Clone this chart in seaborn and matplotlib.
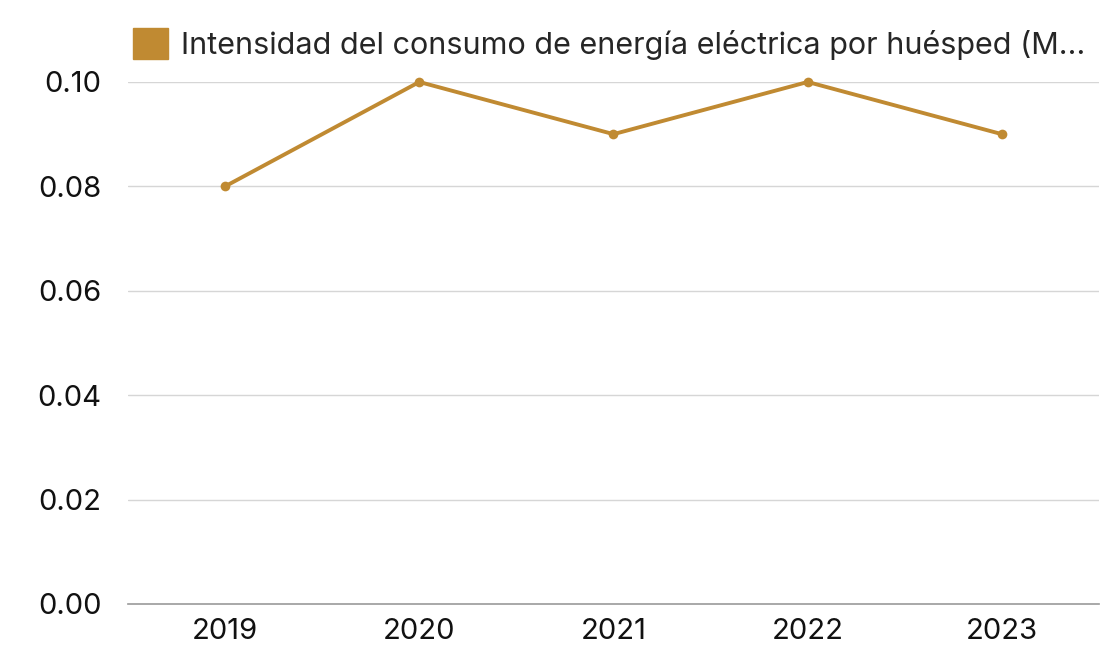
import seaborn as sns
import matplotlib.pyplot as plt
import matplotlib.patches as mpatches
import pandas as pd

years = ['2019', '2020', '2021', '2022', '2023']
intensity = [0.08, 0.10, 0.09, 0.10, 0.09]
label = 'Intensidad del consumo de energía eléctrica por huésped (M…'
yticks = [0.00, 0.02, 0.04, 0.06, 0.08, 0.10]

GOLD = '#C08A32'

sns.set_theme(style='white')
plt.rcParams['font.family'] = ['Inter', 'DejaVu Sans']

df = pd.DataFrame({'year': years, 'value': intensity})

fig = plt.figure(figsize=(11.11, 6.5), dpi=100)
ax = fig.add_axes([0.1152, 0.0708, 0.874, 0.8031])

sns.lineplot(data=df, x='year', y='value', ax=ax, color=GOLD, linewidth=2.8,
             marker='o', markersize=7, markeredgewidth=0, sort=False, clip_on=False)

ax.set_xlim(-0.5, len(years) - 0.5)
ax.set_ylim(0, 0.10)
ax.set_yticks(yticks)
ax.set_yticklabels(['%.2f' % v for v in yticks])
ax.set_xlabel('')
ax.set_ylabel('')
ax.tick_params(axis='both', length=0, labelsize=21, colors='#111111')
ax.tick_params(axis='x', pad=10)
ax.tick_params(axis='y', pad=19)

for v in yticks[1:]:
    ax.axhline(v, color='#D6D6D6', linewidth=1, zorder=0)

for s in ['top', 'right', 'left']:
    ax.spines[s].set_visible(False)
ax.spines['bottom'].set_color('#999999')
ax.spines['bottom'].set_linewidth(1.2)

handle = mpatches.Patch(facecolor=GOLD, edgecolor=GOLD, label=label)
fig.legend(handles=[handle], loc='center left', bbox_to_anchor=(0.109, 0.932),
           frameon=False, fontsize=22, handlelength=1.15, handleheight=1.15,
           handletextpad=0.4, borderaxespad=0)

fig.savefig('out.png', dpi=100)
